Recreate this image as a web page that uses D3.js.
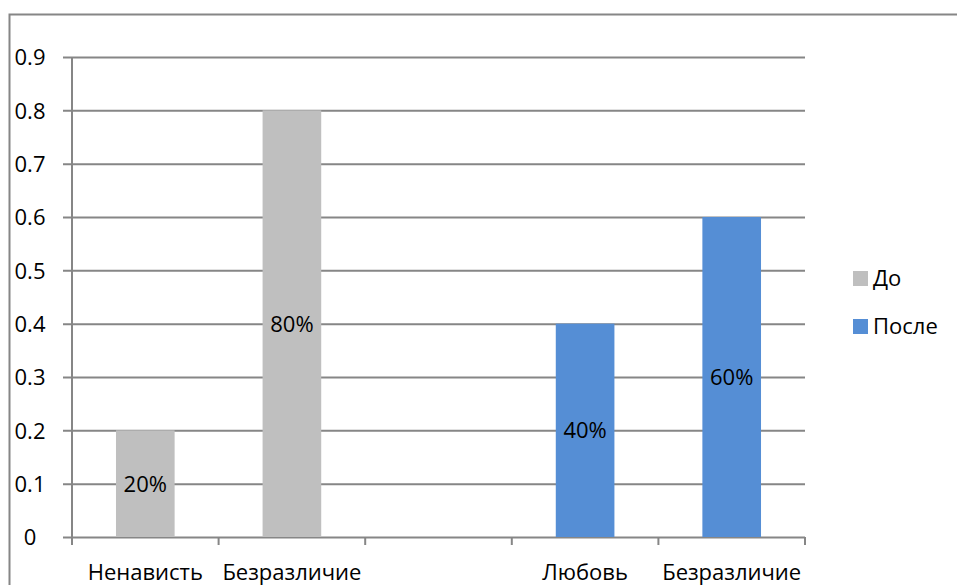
<!DOCTYPE html>
<html>
<head>
<meta charset="utf-8">
<script src="https://cdn.jsdelivr.net/npm/d3@7"></script>
<style>
  html, body { margin: 0; padding: 0; background: #fff; }
  svg { display: block; }
  text { font-family: "Open Sans", "Noto Sans", sans-serif; fill: #000; }
</style>
</head>
<body>
<svg id="chart" width="957" height="585"></svg>
<script>
// Categories along the x axis (one empty slot separates the two groups)
const categories = ["Ненависть", "Безразличие", "", "Любовь", "Безразличие "];
const seriesNames = ["До", "После"];
// Share of answers per category for each series (null = no bar)
const beforeValues = [0.2, 0.8, null, null, null];
const afterValues  = [null, null, null, 0.4, 0.6];
const yTicks = [0, 0.1, 0.2, 0.3, 0.4, 0.5, 0.6, 0.7, 0.8, 0.9];
const colors = ["#BFBFBF", "#558ED5"];

const FONT_SIZE = "22px";
const svg = d3.select("#chart");
const W = 957, H = 585;
const margin = { left: 72, top: 57, right: 152, bottom: 48 };

// Outer chart frame
svg.append("rect")
  .attr("x", 9.5).attr("y", 14.5)
  .attr("width", 960).attr("height", 600)
  .attr("fill", "none").attr("stroke", "#868686").attr("stroke-width", 2);

const x = d3.scaleBand()
  .domain(d3.range(categories.length))
  .range([margin.left, W - margin.right])
  .paddingInner(0.6).paddingOuter(0.3);

const xEdges = d3.scalePoint()
  .domain(d3.range(categories.length + 1))
  .range([margin.left, W - margin.right]);

const y = d3.scaleLinear()
  .domain([0, 0.9])
  .range([H - margin.bottom, margin.top]);

// Horizontal gridlines with outward tick marks
const yAxis = d3.axisLeft(y)
  .tickValues(yTicks)
  .tickFormat(d => d === 0 ? "0" : d3.format(".1f")(d))
  .tickSize(-(W - margin.right - margin.left));

const gy = svg.append("g")
  .attr("transform", `translate(${margin.left},0)`)
  .call(yAxis)
  .attr("font-size", null)
  .attr("font-family", null);
gy.select(".domain").remove();
gy.selectAll(".tick line")
  .attr("stroke", "#868686").attr("stroke-width", 2)
  .attr("x1", -9);
gy.selectAll(".tick text")
  .attr("x", -42)
  .attr("dy", "0.36em")
  .attr("text-anchor", "middle")
  .attr("fill", "#000")
  .style("font-size", FONT_SIZE);

// Vertical axis line
svg.append("line")
  .attr("x1", margin.left).attr("x2", margin.left)
  .attr("y1", y(0.9)).attr("y2", y(0) + 8)
  .attr("stroke", "#868686").attr("stroke-width", 2);

// Category boundary ticks on the x axis
svg.append("g").selectAll("line")
  .data(d3.range(categories.length + 1))
  .join("line")
  .attr("x1", d => xEdges(d)).attr("x2", d => xEdges(d))
  .attr("y1", y(0)).attr("y2", y(0) + 8)
  .attr("stroke", "#868686").attr("stroke-width", 2);

// Category labels
svg.append("g").selectAll("text")
  .data(categories)
  .join("text")
  .attr("x", (d, i) => x(i) + x.bandwidth() / 2)
  .attr("y", 580)
  .attr("text-anchor", "middle")
  .style("font-size", FONT_SIZE)
  .text(d => d);

// Bars and value labels
const series = [beforeValues, afterValues];
series.forEach((vals, s) => {
  const data = vals.map((v, i) => ({ v, i })).filter(d => d.v != null);
  const g = svg.append("g");
  g.selectAll("rect")
    .data(data)
    .join("rect")
    .attr("x", d => x(d.i))
    .attr("width", x.bandwidth())
    .attr("y", d => y(d.v))
    .attr("height", d => y(0) - y(d.v))
    .attr("fill", colors[s]);
  g.selectAll("text")
    .data(data)
    .join("text")
    .attr("x", d => x(d.i) + x.bandwidth() / 2)
    .attr("y", d => (y(d.v) + y(0)) / 2)
    .attr("dy", "0.36em")
    .attr("text-anchor", "middle")
    .style("font-size", FONT_SIZE)
    .text(d => d3.format(".0%")(d.v));
});

// Legend
const legend = svg.append("g").attr("transform", "translate(853,271)");
seriesNames.forEach((name, s) => {
  const row = legend.append("g").attr("transform", `translate(0,${s * 48})`);
  row.append("rect").attr("width", 15).attr("height", 15).attr("fill", colors[s]);
  row.append("text")
    .attr("x", 20).attr("y", 7.5).attr("dy", "0.36em")
    .style("font-size", FONT_SIZE)
    .text(name);
});
</script>
</body>
</html>
